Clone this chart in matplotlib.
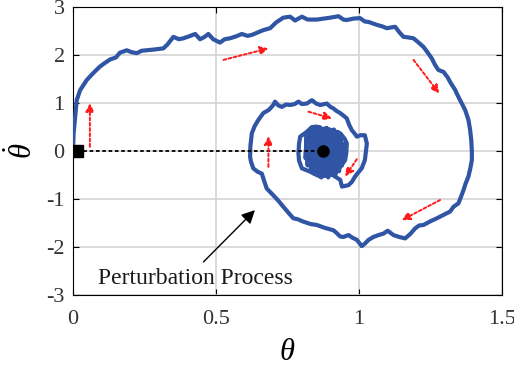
import numpy as np
import matplotlib
matplotlib.use('Agg')
import matplotlib.pyplot as plt

plt.rcParams['font.family'] = ['Liberation Serif', 'DejaVu Serif']
plt.rcParams['mathtext.fontset'] = 'custom'
plt.rcParams['mathtext.rm'] = 'Liberation Serif'
plt.rcParams['mathtext.it'] = 'Liberation Serif:italic'
plt.rcParams['axes.unicode_minus'] = False

# trayectoria (theta, theta_dot)
theta = [0.0, 0.002, 0.008, 0.013, 0.025, 0.048, 0.07, 0.094, 0.11, 0.13, 0.15, 0.164, 0.188, 0.205,
         0.223, 0.24, 0.258, 0.29, 0.316, 0.33, 0.351, 0.37, 0.386, 0.41, 0.427, 0.444, 0.46, 0.473,
         0.49, 0.514, 0.53, 0.549, 0.57, 0.59, 0.61, 0.625, 0.645, 0.665, 0.689, 0.71, 0.735, 0.759,
         0.776, 0.80, 0.82, 0.852, 0.875, 0.90, 0.928, 0.945, 0.957, 0.98, 1.003, 1.02, 1.033, 1.062,
         1.08, 1.097, 1.126, 1.14, 1.155, 1.17, 1.19, 1.21, 1.225, 1.24, 1.254, 1.265, 1.277, 1.295,
         1.31, 1.318, 1.335, 1.347, 1.36, 1.371, 1.382, 1.388, 1.392, 1.394, 1.394, 1.388, 1.382,
         1.372, 1.365, 1.355, 1.347, 1.33, 1.318, 1.295, 1.272, 1.25, 1.225, 1.21, 1.196, 1.18, 1.161,
         1.14, 1.12, 1.10, 1.085, 1.068, 1.05, 1.033, 1.02, 1.009, 0.992, 0.975, 0.963, 0.945, 0.934,
         0.92, 0.91, 0.88, 0.852, 0.83, 0.805, 0.785, 0.77, 0.755, 0.735, 0.72, 0.70, 0.677, 0.668,
         0.66, 0.645, 0.63, 0.622, 0.619, 0.62, 0.625, 0.635, 0.648, 0.665, 0.685, 0.70, 0.706, 0.718,
         0.73, 0.745, 0.759, 0.775, 0.788, 0.80, 0.817, 0.835, 0.85, 0.864, 0.887, 0.90, 0.91, 0.92,
         0.934, 0.945, 0.957, 0.965, 0.974, 0.985, 0.992, 1.005, 1.02, 1.027, 1.024, 1.02, 1.009,
         0.995, 0.986, 0.975, 0.963, 0.94, 0.934, 0.916, 0.895, 0.887, 0.864, 0.845, 0.829, 0.80,
         0.79, 0.788, 0.79, 0.794, 0.817, 0.835, 0.852, 0.87, 0.887, 0.91, 0.934, 0.95, 0.957, 0.955,
         0.951, 0.935, 0.922,
         # nucleo denso
         0.945, 0.94, 0.935, 0.93, 0.925, 0.918, 0.912, 0.905, 0.898, 0.892, 0.886, 0.88, 0.874,
         0.868, 0.862, 0.856, 0.85, 0.844, 0.838, 0.832, 0.826, 0.82, 0.816, 0.813, 0.815]
theta_dot = [0.0, 0.35, 0.75, 1.06, 1.27, 1.48, 1.62, 1.76, 1.83, 1.91, 1.95, 2.05, 2.10, 2.06,
             2.04, 2.09, 2.10, 2.12, 2.14, 2.22, 2.38, 2.33, 2.35, 2.40, 2.44, 2.33, 2.38, 2.44,
             2.33, 2.26, 2.33, 2.35, 2.39, 2.44, 2.40, 2.42, 2.47, 2.52, 2.56, 2.68, 2.78, 2.80,
             2.72, 2.80, 2.74, 2.74, 2.76, 2.78, 2.81, 2.74, 2.73, 2.76, 2.77, 2.70, 2.69, 2.63,
             2.60, 2.56, 2.59, 2.48, 2.38, 2.37, 2.35, 2.25, 2.17, 2.05, 1.93, 1.80, 1.69, 1.65,
             1.53, 1.44, 1.28, 1.13, 0.98, 0.85, 0.65, 0.44, 0.22, 0.0, -0.19, -0.38, -0.53,
             -0.68, -0.81, -0.97, -1.09, -1.16, -1.26, -1.33, -1.40, -1.46, -1.54, -1.55, -1.61, -1.72, -1.82,
             -1.79, -1.75, -1.66, -1.72, -1.75, -1.79, -1.85, -1.93, -1.98, -1.85, -1.80, -1.75, -1.79, -1.78,
             -1.70, -1.65, -1.60, -1.54, -1.52, -1.47, -1.42, -1.40, -1.30, -1.16, -1.05, -0.92, -0.78, -0.62,
             -0.47, -0.43, -0.36, -0.22, -0.12, 0.10, 0.37, 0.52, 0.65, 0.79, 0.86, 0.96, 1.03, 0.95,
             0.92, 0.97, 0.96, 0.98, 1.03, 0.98, 0.99, 1.06, 0.99, 0.96, 0.99, 0.92, 0.89, 0.84,
             0.79, 0.74, 0.68, 0.55, 0.44, 0.36, 0.30, 0.33, 0.33, 0.16, 0.0, -0.19, -0.36,
             -0.46, -0.53, -0.64, -0.71, -0.74, -0.60, -0.53, -0.45, -0.40, -0.53, -0.48, -0.43, -0.36,
             -0.20, -0.05, 0.15, 0.30, 0.40, 0.50, 0.51, 0.46, 0.47, 0.42, 0.37, 0.25, 0.16, -0.05,
             -0.19, -0.32, -0.40,
             0.15, -0.30, 0.35, -0.42, 0.40, -0.48, 0.45, -0.50, 0.42, -0.55, 0.48, -0.52, 0.45,
             -0.55, 0.50, -0.50, 0.44, -0.46, 0.47, -0.42, 0.40, -0.30, 0.30, -0.15, 0.10]

# flechas rojas (inicio, fin)
arrow_start = [(0.059, 0.09), (0.526, 1.90), (1.19, 1.90), (0.823, 0.82),
               (0.683, -0.33), (0.992, -0.17), (1.283, -1.02)]
arrow_end = [(0.059, 1.00), (0.683, 2.14), (1.28, 1.20), (0.905, 0.68),
             (0.683, 0.31), (0.951, -0.53), (1.149, -1.44)]

start_pt = (0.015, 0.0)
eq_pt = (0.875, 0.0)

fig = plt.figure(figsize=(5.14, 3.73), dpi=100)
ax = fig.add_axes([0.142, 0.209, 0.835, 0.772])

ax.plot(theta, theta_dot, color='#2f55a4', lw=3.0, solid_joinstyle='round', zorder=3)
ax.plot([start_pt[0], eq_pt[0]], [start_pt[1], eq_pt[1]], color='k', lw=1.3,
        linestyle=(0, (2, 1.5)), zorder=4)
ax.plot(*start_pt, marker='s', color='k', ms=8, zorder=5)
ax.plot(*eq_pt, marker='o', color='k', ms=8, zorder=5)

for s, e in zip(arrow_start, arrow_end):
    ax.annotate('', xy=e, xytext=s,
                arrowprops=dict(arrowstyle='-|>', color='#ff1a1a', lw=1.4,
                                linestyle=(0, (1.5, 1.2)), mutation_scale=12,
                                shrinkA=0, shrinkB=0), zorder=4)

ax.text(0.427, -2.65, 'Perturbation Process', ha='center', va='center', fontsize=17,
        color='#1a1a1a')
ax.annotate('', xy=(0.636, -1.23), xytext=(0.456, -2.31),
            arrowprops=dict(arrowstyle='-|>', color='k', lw=1.0, mutation_scale=20,
                            shrinkA=0, shrinkB=0))

ax.set_xlim(0, 1.5)
ax.set_ylim(-3, 3)
ax.set_xticks([0, 0.5, 1, 1.5])
ax.set_xticklabels(['0', '0.5', '1', '1.5'])
ax.set_yticks([-3, -2, -1, 0, 1, 2, 3])
ax.grid(True, color='#d4d4d4', lw=1.2)
ax.set_axisbelow(True)
ax.tick_params(direction='in', top=True, right=True, length=4, labelsize=16,
               labelcolor='#333333', pad=6)
ax.tick_params(axis='x', pad=11)
for sp in ax.spines.values():
    sp.set_linewidth(0.8)

ax.set_xlabel(r'$\theta$', fontsize=22, labelpad=6)
ax.set_ylabel(r'$\dot{\theta}$', fontsize=22, labelpad=5)

fig.savefig('out.png', dpi=100)
